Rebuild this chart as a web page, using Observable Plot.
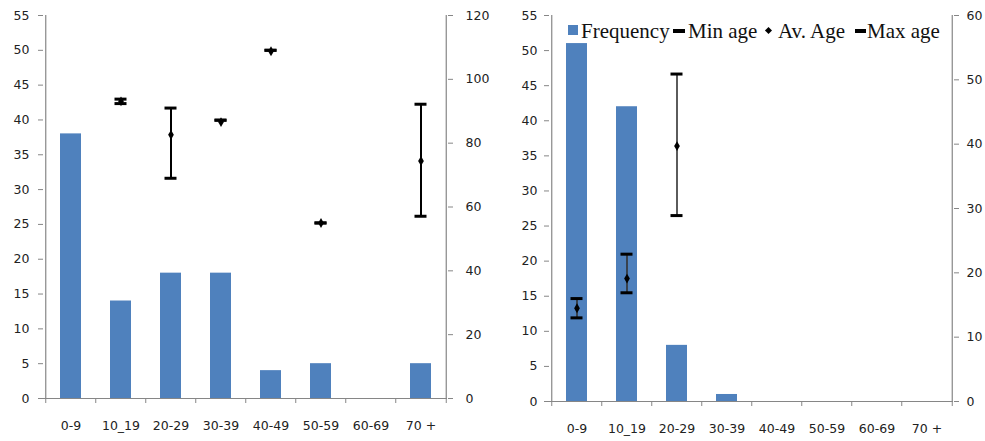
<!DOCTYPE html>
<html>
<head>
<meta charset="utf-8">
<script src="https://cdn.jsdelivr.net/npm/d3@7"></script>
<script src="https://cdn.jsdelivr.net/npm/@observablehq/plot@0.6"></script>
<style>
  html, body { margin: 0; padding: 0; background: #fff; overflow: hidden; width: 985px; height: 441px; }
  #wrap { position: relative; width: 985px; height: 441px; }
  .panel { position: absolute; top: 0; }
  .lg { position: absolute; font-family: "Liberation Serif", "Times New Roman", serif; font-size: 21px; line-height: 20px; color: #111; white-space: nowrap; }
  .sq { position: absolute; background: #4f81bd; }
  .dash { position: absolute; background: #000; }
</style>
</head>
<body>
<div id="wrap"></div>
<script>
// ---- data ----
const categories = ["0-9", "10_19", "20-29", "30-39", "40-49", "50-59", "60-69", "70 +"];

const leftFrequency = [38, 14, 18, 18, 4, 5, 0, 5];
const leftMinAge = [null, 92.4, 69, 87.2, 109.1, 55, null, 57.1];
const leftAvAge  = [null, 93.1, 82.6, 86.6, 108.8, 55, null, 74.4];
const leftMaxAge = [null, 93.8, 91, 87.2, 109.1, 55, null, 92.2];

const rightFrequency = [51, 42, 8, 1, 0, 0, 0, 0];
const rightMinAge = [13.0, 16.9, 28.9, null, null, null, null, null];
const rightAvAge  = [14.5, 19.1, 39.7, null, null, null, null, null];
const rightMaxAge = [16.0, 22.9, 50.9, null, null, null, null, null];

const freqTicks = d3.range(0, 56, 5);
const leftAgeTicks = [0, 20, 40, 60, 80, 100, 120];
const rightAgeTicks = [0, 10, 20, 30, 40, 50, 60];

const legendLabels = ["Frequency", "Min age", "Av. Age", "Max age"];

// ---- drawing ----
const GRAY = "#868686";
const BLUE = "#4f81bd";
const FMAX = 55;

function panel({freq, mn, av, mx, ageTicks, width, ml, mr, mb, leftPad, rightPad, errStroke, errWidth}) {
  const ageMax = ageTicks[ageTicks.length - 1];
  const k = FMAX / ageMax;
  const step = (width - ml - mr) / categories.length;
  const bars = categories.map((c, i) => ({cat: c, freq: freq[i]}));
  const err = categories.map((c, i) => ({cat: c, min: mn[i], av: av[i], max: mx[i]}))
    .filter(d => d.min != null)
    .map(d => ({cat: d.cat, min: d.min * k, av: d.av * k, max: d.max * k}));
  const first = categories[0], last = categories[categories.length - 1];
  return Plot.plot({
    width, height: 441,
    marginLeft: ml, marginRight: mr, marginTop: 15, marginBottom: mb,
    style: {fontFamily: "DejaVu Sans, Verdana, sans-serif", fontSize: "12.5px", color: "#222", background: "transparent"},
    x: {domain: categories, paddingInner: 0.58, paddingOuter: 0.29, label: null},
    y: {domain: [0, FMAX], label: null},
    marks: [
      Plot.barY(bars.filter(d => d.freq > 0), {x: "cat", y: "freq", fill: BLUE}),
      Plot.ruleY([0], {stroke: GRAY, strokeWidth: 1.2}),
      Plot.ruleX([first], {x: d => d, y1: 0, y2: FMAX, dx: -step / 2, stroke: GRAY, strokeWidth: 1.2}),
      Plot.ruleX([last], {x: d => d, y1: 0, y2: FMAX, dx: step / 2, stroke: GRAY, strokeWidth: 1.2}),
      Plot.axisX({ticks: categories, tickSize: 5, tickFormat: () => "", dx: -step / 2, stroke: GRAY, label: null}),
      Plot.axisX({ticks: [last], tickSize: 5, tickFormat: () => "", dx: step / 2, stroke: GRAY, label: null}),
      Plot.axisX({tickSize: 0, tickPadding: 23, label: null}),
      Plot.axisY({ticks: freqTicks, tickSize: 5, tickPadding: leftPad, stroke: GRAY, label: null}),
      Plot.axisY({anchor: "right", ticks: ageTicks.map(v => v * k), tickFormat: d => Math.round(d / k),
                  tickSize: 5, tickPadding: rightPad, stroke: GRAY, label: null}),
      Plot.ruleX(err, {x: "cat", y1: "min", y2: "max", stroke: errStroke, strokeWidth: errWidth}),
      Plot.tickY(err, {x: "cat", y: "min", stroke: "#000", strokeWidth: 3, insetLeft: 4.5, insetRight: 4.5}),
      Plot.tickY(err, {x: "cat", y: "max", stroke: "#000", strokeWidth: 3, insetLeft: 4.5, insetRight: 4.5}),
      Plot.dot(err, {x: "cat", y: "av", symbol: "diamond", r: 3, fill: "#000", stroke: "none"})
    ]
  });
}

const wrap = document.getElementById("wrap");

const left = panel({freq: leftFrequency, mn: leftMinAge, av: leftAvAge, mx: leftMaxAge,
  ageTicks: leftAgeTicks, width: 492, ml: 43, mr: 45, mb: 43, leftPad: 9, rightPad: 13,
  errStroke: "#000", errWidth: 2});
left.classList.add("panel");
left.style.left = "0px";
wrap.appendChild(left);

const right = panel({freq: rightFrequency, mn: rightMinAge, av: rightAvAge, mx: rightMaxAge,
  ageTicks: rightAgeTicks, width: 493, ml: 57, mr: 32, mb: 40, leftPad: 7, rightPad: 8,
  errStroke: "#333", errWidth: 1.6});
right.classList.add("panel");
right.style.left = "492px";
wrap.appendChild(right);

// ---- legend (right panel) ----
function add(el) { wrap.appendChild(el); return el; }
function div(cls, css, text) {
  const d = document.createElement("div");
  d.className = cls;
  Object.assign(d.style, css);
  if (text) d.textContent = text;
  return add(d);
}
div("sq", {left: "568px", top: "25px", width: "10px", height: "10px"});
div("lg", {left: "581px", top: "21px"}, legendLabels[0]);
div("dash", {left: "673px", top: "29px", width: "12px", height: "4px"});
div("lg", {left: "688px", top: "21px"}, legendLabels[1]);
div("dash", {left: "766px", top: "28px", width: "5px", height: "5px", transform: "rotate(45deg)"});
div("lg", {left: "778px", top: "21px"}, legendLabels[2]);
div("dash", {left: "855px", top: "29px", width: "11px", height: "4px"});
div("lg", {left: "867px", top: "21px"}, legendLabels[3]);
</script>
</body>
</html>
